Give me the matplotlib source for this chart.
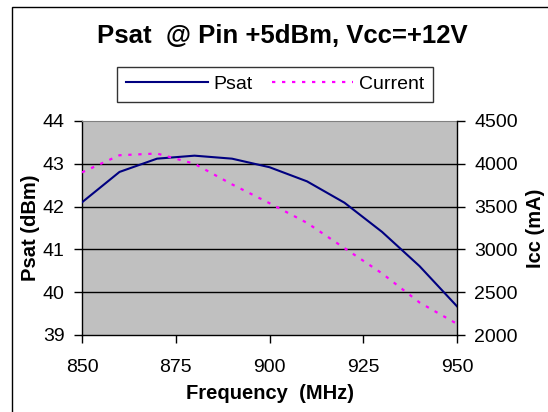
import matplotlib
matplotlib.use("Agg")
import matplotlib.pyplot as plt
from matplotlib.patches import Rectangle

plt.rcParams['font.family'] = ['Liberation Sans', 'DejaVu Sans']

freq = [850, 860, 870, 880, 890, 900, 910, 920, 930, 940, 950]
psat = [42.10, 42.81, 43.12, 43.19, 43.12, 42.92, 42.59, 42.09, 41.41, 40.61, 39.67]
current = [3900, 4100, 4120, 4000, 3760, 3540, 3310, 3015, 2720, 2380, 2130]
xticks = [850, 875, 900, 925, 950]
yticks_left = [39, 40, 41, 42, 43, 44]
yticks_right = [2000, 2500, 3000, 3500, 4000, 4500]

W, H = 548, 412
fig = plt.figure(figsize=(W/100, H/100), dpi=100)
fig.patch.set_facecolor('white')

# outer chart border
fig.patches.append(Rectangle((12/W, -0.1), 1.2, 1 - 7/H + 0.1, transform=fig.transFigure,
                             fill=False, edgecolor='black', linewidth=1.0))

ax = fig.add_axes([82/W, 1 - 335/H, (457-82)/W, (335-121)/H])
ax.set_facecolor('#C0C0C0')
ax.set_xlim(850, 950)
ax.set_ylim(39, 44)
ax.set_xticks(xticks)
ax.set_yticks(yticks_left)
for y in yticks_left[1:-1]:
    ax.axhline(y, color='black', linewidth=1.0, zorder=1)
l1, = ax.plot(freq, psat, color='#000080', linewidth=1.5, zorder=3, label='Psat')
ax.tick_params(axis='both', direction='out', length=6, width=1, labelsize=14, colors='black')
ax.tick_params(axis='x', pad=11)
ax.tick_params(axis='y', pad=6.5)
for s in ['left', 'bottom']:
    ax.spines[s].set_color('black')
    ax.spines[s].set_linewidth(1.0)
ax.spines['top'].set_color('#808080')
ax.spines['right'].set_visible(False)
ax.set_xlabel('Frequency  (MHz)', fontsize=14.5, fontweight='bold', labelpad=6)
ax.set_ylabel('Psat (dBm)', fontsize=14.5, fontweight='bold', labelpad=2)

ax2 = ax.twinx()
ax2.set_ylim(2000, 4500)
ax2.set_yticks(yticks_right)
l2, = ax2.plot(freq, current, color='#FF00FF', linewidth=1.6, linestyle=(0, (1.5, 3)),
               zorder=3, label='Current')
ax2.tick_params(axis='y', direction='out', length=6, width=1, labelsize=14, pad=6.5)
for s in ['left', 'bottom', 'top']:
    ax2.spines[s].set_visible(False)
ax2.spines['right'].set_color('black')
ax2.spines['right'].set_linewidth(1.0)
ax2.set_ylabel('Icc (mA)', fontsize=14.5, fontweight='bold', labelpad=6)

fig.text(282/W, 1 - 36/H, 'Psat  @ Pin +5dBm, Vcc=+12V', fontsize=18.5, fontweight='bold',
         ha='center', va='center')

leg = fig.legend(handles=[l1, l2], loc='center', bbox_to_anchor=(275/W, 1 - 84.5/H),
                 ncol=2, fontsize=14, frameon=True, fancybox=False, handlelength=4.2,
                 handletextpad=0.28, columnspacing=1.0, borderpad=0.45, borderaxespad=0)
leg.get_frame().set_edgecolor('black')
leg.get_frame().set_linewidth(1.0)

fig.savefig('out.png', dpi=100)
